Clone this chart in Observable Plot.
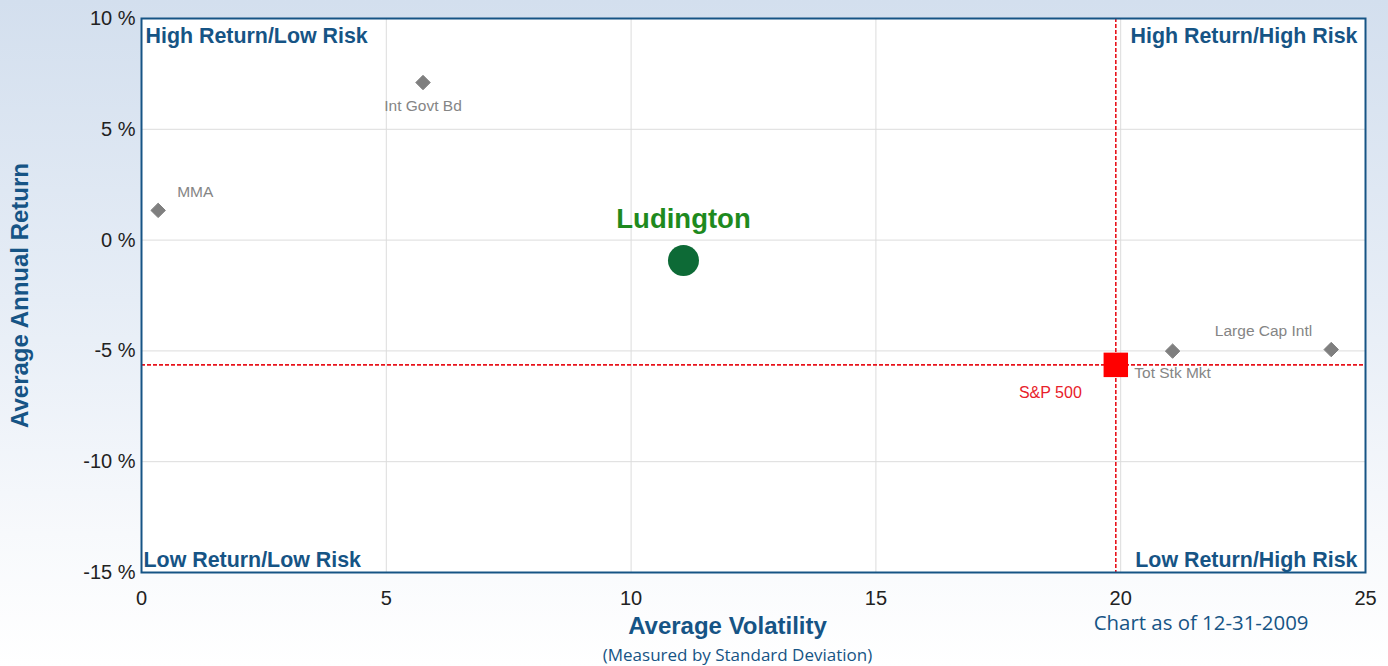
<!DOCTYPE html>
<html>
<head>
<meta charset="utf-8">
<script src="https://cdn.jsdelivr.net/npm/d3@7"></script>
<script src="https://cdn.jsdelivr.net/npm/@observablehq/plot@0.6"></script>
<style>
  html, body { margin: 0; padding: 0; }
  body {
    width: 1388px; height: 666px; overflow: hidden;
    background: linear-gradient(to bottom, #d3dfee 0%, #e6edf6 45%, #f7f9fc 80%, #ffffff 100%);
    font-family: "Liberation Sans", Arial, sans-serif;
  }
  #chart svg { display: block; background: transparent; }
</style>
</head>
<body>
<div id="chart"></div>
<script>
// ---- data ----
const names      = ["MMA", "Int Govt Bd", "Ludington", "S&P 500", "Tot Stk Mkt", "Large Cap Intl"];
const volatility = [0.34, 5.75, 11.07, 19.9, 21.06, 24.3];
const avgReturn  = [1.34, 7.11, -0.92, -5.63, -5.01, -4.94];
const kinds      = ["index", "index", "fund", "benchmark", "index", "index"];
const xTicks = [0, 5, 10, 15, 20, 25];
const yTicks = [-15, -10, -5, 0, 5, 10];
const quadrants = ["High Return/Low Risk", "High Return/High Risk", "Low Return/Low Risk", "Low Return/High Risk"];

const rows = names.map((n, i) => ({name: n, vol: volatility[i], ret: avgReturn[i], kind: kinds[i]}));
const idx = rows.filter(d => d.kind === "index");
const fund = rows.filter(d => d.kind === "fund");
const bench = rows.filter(d => d.kind === "benchmark");
const byName = n => rows.filter(d => d.name === n);

const blue = "#165485";
const labelGray = "#858585";

const quadLabel = (text, anchor, dx, dy, textAnchor) =>
  Plot.text([text], {frameAnchor: anchor, text: d => d, dx, dy, textAnchor,
    fill: blue, fontWeight: "bold", fontSize: 21.4, fontFamily: "Liberation Sans, Arial, sans-serif"});

const pointLabel = (n, opts) => Plot.text(byName(n), {x: "vol", y: "ret", text: "name",
  fill: labelGray, fontSize: 15.5, fontFamily: "Liberation Sans, Arial, sans-serif", ...opts});

const chart = Plot.plot({
  width: 1388,
  height: 666,
  marginLeft: 141,
  marginRight: 23,
  marginTop: 18,
  marginBottom: 94,
  style: {background: "transparent", fontFamily: "Liberation Sans, Arial, sans-serif"},
  x: {domain: [0, 25]},
  y: {domain: [-15, 10]},
  marks: [
    Plot.frame({fill: "white", stroke: "none"}),
    Plot.gridX(xTicks, {stroke: "#dcdcdc", strokeOpacity: 1, strokeWidth: 1}),
    Plot.gridY(yTicks, {stroke: "#dcdcdc", strokeOpacity: 1, strokeWidth: 1}),
    Plot.axisX(xTicks, {tickSize: 0, tickPadding: 18, fontSize: 20, fill: "#222", label: null}),
    Plot.axisY(yTicks, {tickSize: 0, tickPadding: 6, fontSize: 20, fill: "#222", label: null,
      tickFormat: d => d + " %"}),
    // benchmark cross-hairs
    Plot.ruleX(bench, {x: "vol", stroke: "#e8141c", strokeWidth: 1.6, strokeDasharray: "4,2"}),
    Plot.ruleY(bench, {y: "ret", stroke: "#e8141c", strokeWidth: 1.6, strokeDasharray: "4,2"}),
    // frame border
    Plot.frame({stroke: blue, strokeWidth: 2}),
    // quadrant labels
    quadLabel(quadrants[0], "top-left", 4, 9, "start"),
    quadLabel(quadrants[1], "top-right", -8, 9, "end"),
    quadLabel(quadrants[2], "bottom-left", 2, -6, "start"),
    quadLabel(quadrants[3], "bottom-right", -8, -6, "end"),
    // points
    Plot.dot(idx, {x: "vol", y: "ret", symbol: "diamond2", r: 6.5, fill: "#7f7f7f", stroke: "#7f7f7f", strokeWidth: 1}),
    Plot.dot(fund, {x: "vol", y: "ret", r: 15.5, fill: "#0d6a36", stroke: "none"}),
    Plot.dot(bench, {x: "vol", y: "ret", symbol: "square", r: 13.8, fill: "#ff0000", stroke: "none"}),
    // point labels
    pointLabel("MMA", {textAnchor: "start", dx: 19, dy: -18}),
    pointLabel("Int Govt Bd", {dy: 23}),
    pointLabel("Large Cap Intl", {textAnchor: "end", dx: -19, dy: -19}),
    pointLabel("Tot Stk Mkt", {dy: 22}),
    Plot.text(bench, {x: "vol", y: "ret", text: "name", textAnchor: "end", dx: -34, dy: 28,
      fill: "#e8202a", fontSize: 16}),
    Plot.text(fund, {x: "vol", y: "ret", text: "name", dy: -41, fill: "#1e8a1e",
      fontWeight: "bold", fontSize: 27.5}),
    // axis titles and notes
    Plot.text(["Average Volatility"], {frameAnchor: "bottom", text: d => d, dx: -26, dy: 61,
      fill: blue, fontWeight: "bold", fontSize: 24}),
    Plot.text(["(Measured by Standard Deviation)"], {frameAnchor: "bottom", text: d => d, dx: -16, dy: 88,
      fill: blue, fontSize: 17, fontFamily: "Open Sans, sans-serif"}),
    Plot.text(["Chart as of 12-31-2009"], {frameAnchor: "bottom-right", text: d => d, textAnchor: "end",
      dx: -57, dy: 57, fill: blue, fontSize: 20.4, fontFamily: "Open Sans, sans-serif"}),
    Plot.text(["Average Annual Return"], {frameAnchor: "left", text: d => d, rotate: -90, dx: -121,
      textAnchor: "middle", lineAnchor: "middle",
      fill: blue, fontWeight: "bold", fontSize: 24})
  ]
});
document.getElementById("chart").appendChild(chart);
</script>
</body>
</html>
